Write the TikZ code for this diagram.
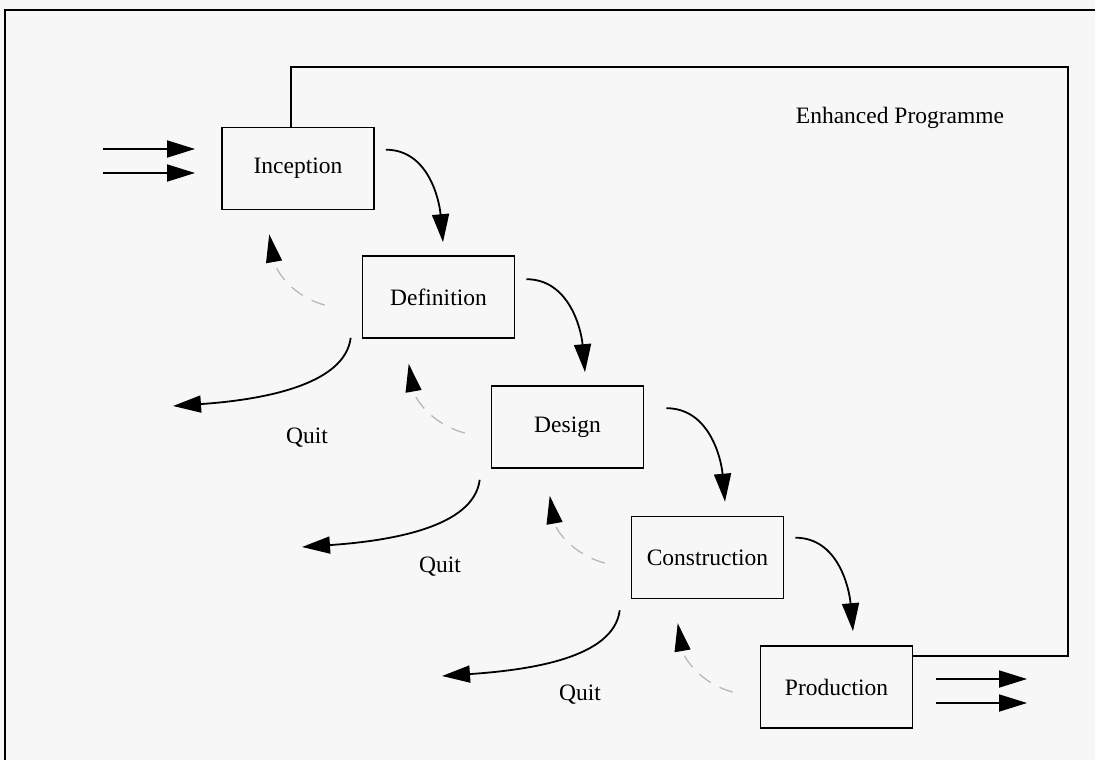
\documentclass[tikz,border=0pt]{standalone}
\usepackage{fontspec}
\setmainfont{Liberation Serif}
\usetikzlibrary{arrows.meta,calc}
\definecolor{paper}{RGB}{247,247,247}
\definecolor{faintline}{RGB}{185,185,185}
\begin{document}
\begin{tikzpicture}[x=1pt,y=1pt,
  stage/.style={draw, line width=1.6pt, minimum width=152pt, minimum height=82pt,
    inner sep=0pt, font=\fontsize{23.5}{27}\selectfont},
  lbl/.style={font=\fontsize{23.5}{27}\selectfont, inner sep=0pt},
  flow/.style={line width=1.8pt, -{Triangle[length=28pt,width=17pt]}},
  back/.style={draw=faintline, line width=1.3pt, dash pattern=on 14pt off 10pt,
    -{Triangle[length=28pt,width=16pt,color=black]}},
]
% page and frame
\fill[paper] (0,0) rectangle (1095,-760);
\useasboundingbox (0,0) rectangle (1095,-760);
\draw[line width=2.2pt] (5,-760) -- (5,-10) -- (1095,-10);

% stages
\node[stage] (inc) at (298,-168.5) {Inception};
\node[stage] (def) at (438.5,-297) {Definition};
\node[stage] (des) at (567.5,-427) {Design};
\node[stage] (con) at (707.5,-557.5) {Construction};
\node[stage] (pro) at (836.5,-687) {Production};

% enhanced programme loop
\coordinate (loopTR) at (1068,-67);
\draw[line width=1.6pt] ([xshift=-7pt]inc.north) |- (loopTR) |- ([yshift=-11pt]pro.north east);
\node[lbl] (enh) at (900,-118) {Enhanced Programme};

% inputs and outputs
\coordinate (in1a) at (103,-149); \coordinate (in1b) at (195,-149);
\coordinate (in2a) at (103,-173); \coordinate (in2b) at (195,-173);
\coordinate (out1a) at (936,-679); \coordinate (out1b) at (1027,-679);
\coordinate (out2a) at (936,-703); \coordinate (out2b) at (1027,-703);
\draw[flow] (in1a) -- (in1b);
\draw[flow] (in2a) -- (in2b);
\draw[flow] (out1a) -- (out1b);
\draw[flow] (out2a) -- (out2b);

% forward steps
\draw[flow] ($(inc.north east)+(11,-23)$) to[out=0,in=95] ($(def.north)+(4.5,13)$);
\draw[flow] ($(def.north east)+(11,-24)$) to[out=0,in=95] ($(des.north)+(17.5,13)$);
\draw[flow] ($(des.north east)+(22,-23)$) to[out=0,in=95] ($(con.north)+(17.5,14)$);
\draw[flow] ($(con.north east)+(11,-22)$) to[out=0,in=95] ($(pro.north)+(16.5,14)$);

% quit exits
\coordinate (q1) at (173,-406);
\coordinate (q2) at (302,-547);
\coordinate (q3) at (442,-676);
\draw[flow] ($(def.south west)+(-11,1)$) .. controls +(-6,-48) and +(87,6) .. (q1);
\draw[flow] ($(des.south west)+(-11,-11)$) .. controls +(-6,-48) and +(87,6) .. (q2);
\draw[flow] ($(con.south west)+(-11,-11)$) .. controls +(-6,-48) and +(87,6) .. (q3);
\node[lbl] (quit1) at (307,-438) {Quit};
\node[lbl] (quit2) at (440,-567) {Quit};
\node[lbl] (quit3) at (580,-695) {Quit};

% steps back
\draw[back] ($(def.west)+(-37,-8)$) to[out=165,in=-80] ($(inc.south west)+(48,-24)$);
\draw[back] ($(des.west)+(-26,-6)$) to[out=165,in=-80] ($(def.south west)+(47,-25)$);
\draw[back] ($(con.west)+(-26,-5.5)$) to[out=165,in=-80] ($(des.south west)+(59,-27)$);
\draw[back] ($(pro.west)+(-27,-5)$) to[out=165,in=-80] ($(con.south west)+(47,-24)$);
\end{tikzpicture}
\end{document}
